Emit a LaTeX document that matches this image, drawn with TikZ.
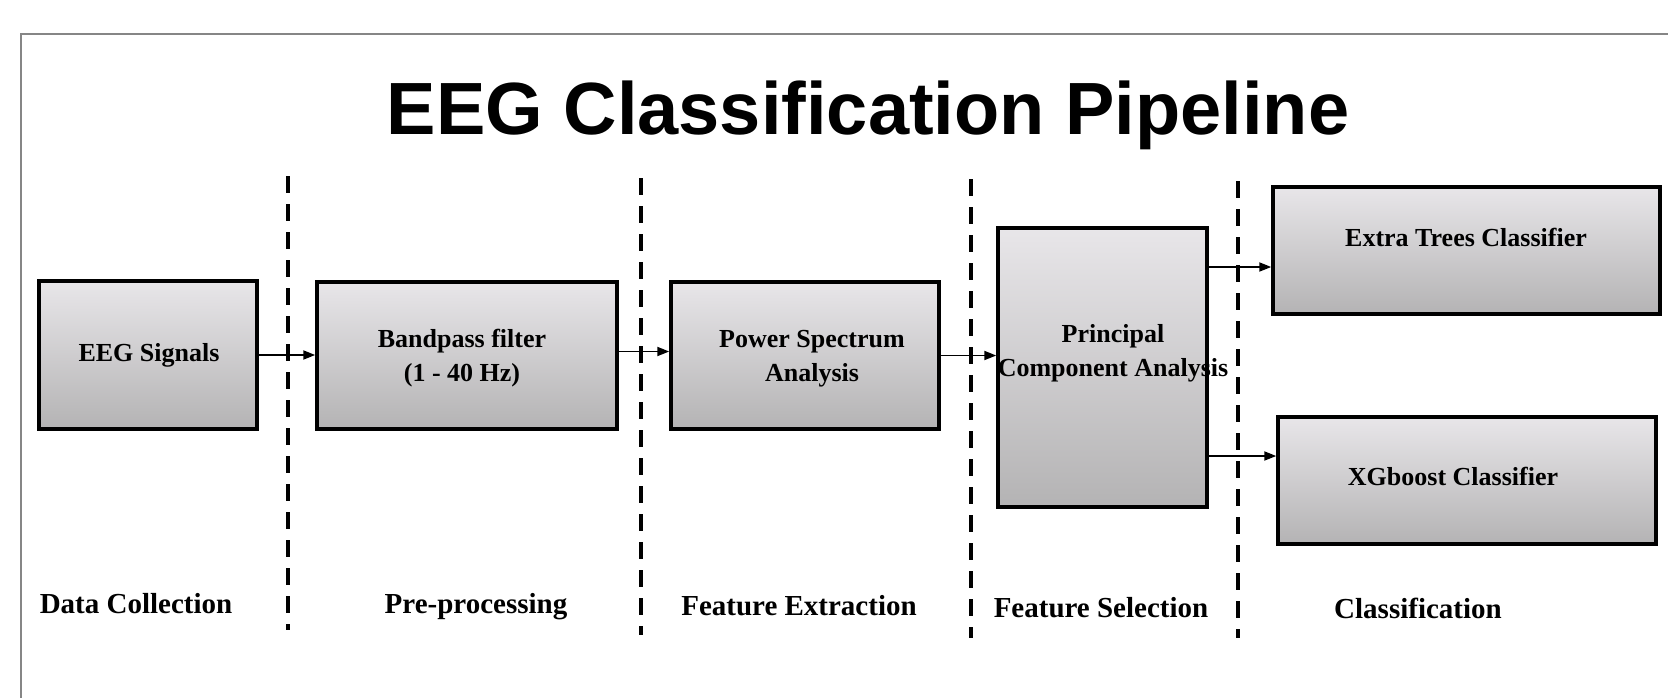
\documentclass[tikz,border=0pt]{standalone}
\usepackage{fontspec}
\setmainfont{Liberation Serif}
\newfontfamily\titlefont{Liberation Sans}
\usetikzlibrary{arrows.meta,calc}
\definecolor{gtop}{HTML}{E8E6E9}
\definecolor{gmid}{HTML}{DDDBDD}
\definecolor{gbot}{HTML}{B4B3B4}
\definecolor{framegray}{HTML}{868686}
\begin{document}
\begin{tikzpicture}[x=1pt,y=-1pt,
  stagebox/.style={draw=black,line width=3.5pt,rectangle,inner sep=0pt,
    top color=gtop,middle color=gmid,bottom color=gbot},
  boxtext/.style={font=\fontsize{26}{34}\selectfont\bfseries,align=center,inner sep=0pt,anchor=base},
  stagelabel/.style={font=\fontsize{29}{34}\selectfont\bfseries,inner sep=0pt,anchor=base},
  divider/.style={line width=3.5pt,dash pattern=on 17pt off 11pt},
  arr/.style={line width=1.8pt,-{Triangle[length=12pt,width=9pt]}}]
\useasboundingbox (0,0) rectangle (1668,698);
\fill[white] (0,0) rectangle (1668,698);
% frame
\draw[framegray,line width=2.2pt] (21,698) -- (21,34) -- (1668,34);
% title
\node[font=\titlefont\fontsize{74}{80}\selectfont\bfseries,inner sep=0pt,anchor=base] (title) at (868,135) {EEG Classification Pipeline};
% dividers
\draw[divider] (288,176) -- (288,630);
\draw[divider] (641,178) -- (641,635);
\draw[divider] (971,179) -- (971,638);
\draw[divider] (1238,181) -- (1238,638);
% boxes
\node[stagebox,minimum width=218pt,minimum height=148pt] (eeg) at (148,355) {};
\node[stagebox,minimum width=300pt,minimum height=147pt] (bp) at (467,355.5) {};
\node[stagebox,minimum width=268pt,minimum height=147pt] (pw) at (805,355.5) {};
\node[stagebox,minimum width=209pt,minimum height=279pt] (pca) at (1102.5,367.5) {};
\node[stagebox,minimum width=387pt,minimum height=127pt] (ex) at (1466.5,250.5) {};
\node[stagebox,minimum width=378pt,minimum height=127pt] (xg) at (1467,480.5) {};
% box texts (base anchor = baseline of last line)
\node[boxtext] (eegt) at (149,361) {EEG Signals};
\node[boxtext] (bpt) at (462,381) {Bandpass filter\\(1 - 40 Hz)};
\node[boxtext] (pwt) at (812,381) {Power Spectrum\\Analysis};
\node[boxtext] (pcat) at (1113,376) {Principal\\Component Analysis};
\node[boxtext] (ext) at (1466,246) {Extra Trees Classifier};
\node[boxtext] (xgt) at (1453,485) {XGboost Classifier};
% arrows
\draw[arr] (eeg.east) -- (eeg.east -| bp.west);
\draw[arr] ([yshift=4pt]bp.east) -- ([yshift=4pt]bp.east -| pw.west);
\draw[arr] (pw.east) -- (pw.east -| pca.west);
\draw[arr] ([yshift=100.5pt]pca.east) -- ([yshift=100.5pt]pca.east -| ex.west);
\draw[arr] ([yshift=-88.5pt]pca.east) -- ([yshift=-88.5pt]pca.east -| xg.west);
% stage labels
\node[stagelabel] (l1) at (136,613) {Data Collection};
\node[stagelabel] (l2) at (476,613) {Pre-processing};
\node[stagelabel] (l3) at (799,615) {Feature Extraction};
\node[stagelabel] (l4) at (1101,617) {Feature Selection};
\node[stagelabel] (l5) at (1418,618) {Classification};
\end{tikzpicture}
\end{document}
